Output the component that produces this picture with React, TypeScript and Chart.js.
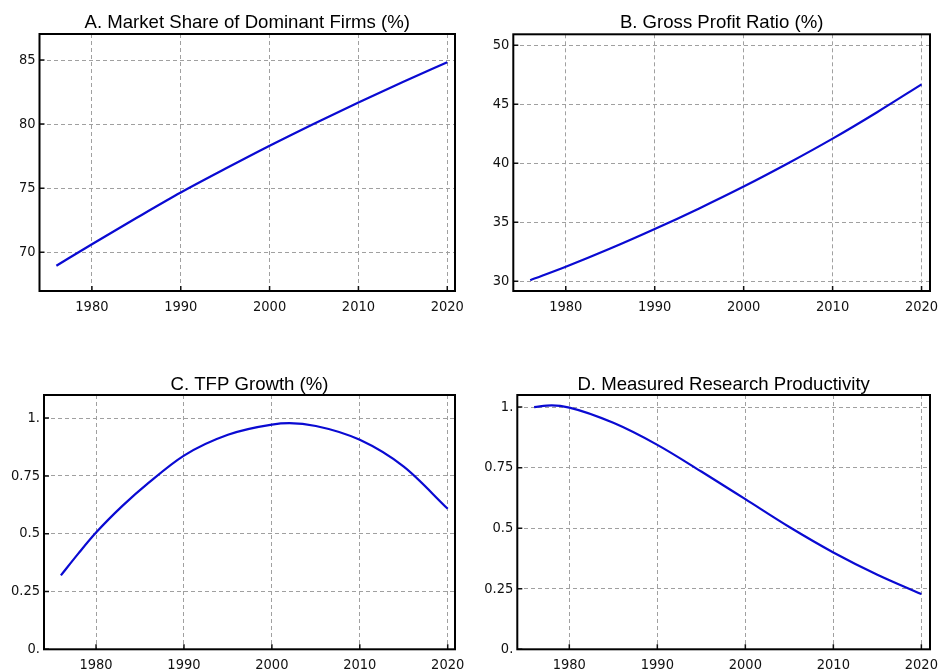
import React, { useEffect, useRef } from 'react';
import { Chart, registerables } from 'chart.js';

Chart.register(...registerables);

// ---------- data ----------
const yearTicks = [1980, 1990, 2000, 2010, 2020];

const yearsA = [1976, 1980, 1985, 1990, 1995, 2000, 2005, 2010, 2015, 2020];
const marketShare = [68.95, 70.63, 72.67, 74.66, 76.51, 78.31, 80.035, 81.69, 83.29, 84.82];
const ticksA = [70, 75, 80, 85];
const labelsA = ['70', '75', '80', '85'];

const yearsB = [1976, 1980, 1985, 1990, 1995, 2000, 2005, 2010, 2015, 2020];
const grossProfit = [30.09, 31.23, 32.775, 34.43, 36.18, 38.03, 40.005, 42.09, 44.33, 46.69];
const ticksB = [30, 35, 40, 45, 50];
const labelsB = ['30', '35', '40', '45', '50'];

const yearsC = [1976, 1978, 1980, 1983, 1986, 1990, 1995, 2000, 2002, 2005, 2010, 2015, 2020];
const tfpGrowth = [0.32, 0.415, 0.505, 0.6205, 0.721, 0.838, 0.928, 0.972, 0.978, 0.966, 0.906, 0.79, 0.608];
const ticksC = [0, 0.25, 0.5, 0.75, 1];
const labelsC = ['0.', '0.25', '0.5', '0.75', '1.'];

const yearsD = [1976, 1978, 1980, 1985, 1990, 1995, 2000, 2005, 2010, 2015, 2020];
const researchProd = [1.0, 1.007, 0.998, 0.935, 0.844, 0.734, 0.62, 0.505, 0.4, 0.308, 0.228];
const ticksD = [0, 0.25, 0.5, 0.75, 1];
const labelsD = ['0.', '0.25', '0.5', '0.75', '1.'];

// ---------- layout ----------
type Panel = {
  title: string;
  years: number[];
  values: number[];
  yTicks: number[];
  yLabels: string[];
  yMin: number;
  yMax: number;
  xMin: number;
  xMax: number;
  left: number;
  top: number;
  w: number;
  h: number;
  yW: number;
  padT: number;
  padR: number;
  xH: number;
  titleY: number;
  xPad: number;
};

const panels: Panel[] = [
  {
    title: 'A. Market Share of Dominant Firms (%)',
    years: yearsA, values: marketShare, yTicks: ticksA, yLabels: labelsA,
    yMin: 66.98, yMax: 87.03, xMin: 1974.1, xMax: 2020.87,
    left: 0, top: 0, w: 470, h: 335, yW: 39.5, padT: 34, padR: 15, xH: 44, titleY: 28, xPad: 7.5,
  },
  {
    title: 'B. Gross Profit Ratio (%)',
    years: yearsB, values: grossProfit, yTicks: ticksB, yLabels: labelsB,
    yMin: 29.18, yMax: 50.93, xMin: 1974.1, xMax: 2020.95,
    left: 470, top: 0, w: 470, h: 335, yW: 43.3, padT: 34.3, padR: 10, xH: 44, titleY: 28, xPad: 7.5,
  },
  {
    title: 'C. TFP Growth (%)',
    years: yearsC, values: tfpGrowth, yTicks: ticksC, yLabels: labelsC,
    yMin: 0, yMax: 1.1, xMin: 1974.08, xMax: 2020.83,
    left: 0, top: 340, w: 470, h: 331, yW: 44, padT: 55, padR: 15, xH: 21.7, titleY: 49.5, xPad: 7,
  },
  {
    title: 'D. Measured Research Productivity',
    years: yearsD, values: researchProd, yTicks: ticksD, yLabels: labelsD,
    yMin: 0, yMax: 1.05, xMin: 1974.09, xMax: 2020.98,
    left: 470, top: 340, w: 470, h: 331, yW: 47.3, padT: 55, padR: 10, xH: 21.7, titleY: 49.5, xPad: 7,
  },
];

const decorPlugin = {
  id: 'panelDecor',
  afterDraw(chart: any, _args: any, opts: any) {
    const { ctx, chartArea } = chart;
    const { left, right, top, bottom } = chartArea;
    const xs = chart.scales.x;
    const ys = chart.scales.y;
    ctx.save();
    // inward ticks
    ctx.strokeStyle = '#111';
    ctx.lineWidth = 1.5;
    ctx.beginPath();
    for (const t of xs.ticks) {
      const px = xs.getPixelForValue(t.value);
      ctx.moveTo(px, bottom);
      ctx.lineTo(px, bottom - 5);
    }
    for (const t of ys.ticks) {
      const py = ys.getPixelForValue(t.value);
      ctx.moveTo(left, py);
      ctx.lineTo(left + 5, py);
    }
    ctx.stroke();
    // frame
    ctx.strokeStyle = '#000';
    ctx.lineWidth = 2;
    ctx.strokeRect(left, top, right - left, bottom - top);
    // title
    ctx.fillStyle = '#000';
    ctx.font = '18.6px "Liberation Sans", Arial, sans-serif';
    ctx.textAlign = 'center';
    ctx.textBaseline = 'alphabetic';
    ctx.fillText(opts.text, (left + right) / 2, opts.y);
    ctx.restore();
  },
};

function PanelChart({ p }: { p: Panel }) {
  const ref = useRef<HTMLCanvasElement | null>(null);
  useEffect(() => {
    if (!ref.current) return;
    const tickFont = { family: '"DejaVu Sans Condensed", "DejaVu Sans", sans-serif', size: 14.5 };
    const chart = new Chart(ref.current, {
      type: 'line',
      data: {
        datasets: [
          {
            data: p.years.map((yr, i) => ({ x: yr, y: p.values[i] })),
            borderColor: '#0a0ad2',
            borderWidth: 2.2,
            pointRadius: 0,
            fill: false,
            cubicInterpolationMode: 'monotone',
          },
        ],
      },
      options: {
        animation: false,
        responsive: false,
        devicePixelRatio: 1,
        layout: { padding: { left: 0, right: p.padR, top: p.padT, bottom: 0 } },
        plugins: {
          legend: { display: false },
          tooltip: { enabled: false },
          title: { display: false },
          panelDecor: { text: p.title, y: p.titleY },
        } as any,
        scales: {
          x: {
            type: 'linear',
            min: p.xMin,
            max: p.xMax,
            afterBuildTicks: (s: any) => {
              s.ticks = yearTicks.map((v) => ({ value: v }));
            },
            afterFit: (s: any) => {
              s.height = p.xH;
              s.paddingLeft = 0;
              s.paddingRight = 0;
            },
            ticks: {
              callback: (v: any) => String(v),
              font: tickFont,
              color: '#111',
              padding: p.xPad,
              maxRotation: 0,
              autoSkip: false,
            },
            grid: { color: '#a0a0a0', lineWidth: 1, drawTicks: false },
            border: { display: false, dash: [4, 3] },
          },
          y: {
            type: 'linear',
            min: p.yMin,
            max: p.yMax,
            afterBuildTicks: (s: any) => {
              s.ticks = p.yTicks.map((v) => ({ value: v }));
            },
            afterFit: (s: any) => {
              s.width = p.yW;
              s.paddingTop = 0;
              s.paddingBottom = 0;
            },
            ticks: {
              callback: (v: any) => {
                const i = p.yTicks.indexOf(Number(v));
                return i >= 0 ? p.yLabels[i] : '';
              },
              font: tickFont,
              color: '#111',
              padding: 4,
              autoSkip: false,
            },
            grid: { color: '#a0a0a0', lineWidth: 1, drawTicks: false },
            border: { display: false, dash: [4, 3] },
          },
        },
      } as any,
      plugins: [decorPlugin],
    });
    return () => chart.destroy();
  }, [p]);
  return (
    <canvas
      ref={ref}
      width={p.w}
      height={p.h}
      style={{ position: 'absolute', left: p.left, top: p.top, width: p.w, height: p.h }}
    />
  );
}

export default function App() {
  return (
    <div
      style={{
        position: 'fixed',
        left: 0,
        top: 0,
        width: 940,
        height: 671,
        background: '#fff',
        overflow: 'hidden',
      }}
    >
      {panels.map((p, i) => (
        <PanelChart key={i} p={p} />
      ))}
    </div>
  );
}
